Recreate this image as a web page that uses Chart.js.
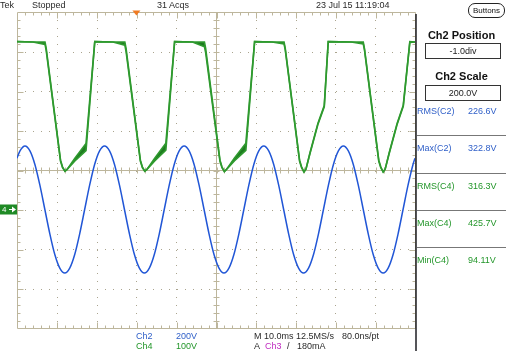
<!DOCTYPE html>
<html>
<head>
<meta charset="utf-8">
<script src="https://cdn.jsdelivr.net/npm/chart.js@4"></script>
<style>
  body { margin: 0; background: #fff; }
  #wrap { position: relative; width: 506px; height: 351px; overflow: hidden;
          font-family: "Liberation Sans", Arial, sans-serif; font-size: 9px; color: #2a2a2a; }
  #wrap canvas { position: absolute; left: 0; top: 0; }
  .t { position: absolute; white-space: nowrap; line-height: 10px; }
  .b { font-weight: bold; font-size: 11px; color: #111; width: 89px; text-align: center; left: 417px; line-height: 12px; }
  .box { position: absolute; border: 1px solid #333; text-align: center; line-height: 14px; height: 14px; color: #222; }
  .sep { position: absolute; left: 417px; width: 89px; height: 1px; background: #777; }
  .c2 { color: #2f5fc8; }
  .c4 { color: #23962a; }
</style>
</head>
<body>
<div id="wrap">
  <canvas id="scope" width="506" height="351"></canvas>

  <div class="t" style="left:0;top:0">Tek</div>
  <div class="t" style="left:32px;top:0">Stopped</div>
  <div class="t" style="left:157px;top:0">31 Acqs</div>
  <div class="t" style="left:316px;top:0">23 Jul 15 11:19:04</div>

  <div class="t" style="left:468px;top:3px;width:35px;height:13px;border:1px solid #222;border-radius:7px;text-align:center;line-height:13px;font-size:8px;color:#111">Buttons</div>
  <div class="t b" style="top:29px">Ch2 Position</div>
  <div class="box" style="left:425px;top:43px;width:74px">-1.0div</div>
  <div class="t b" style="top:70px">Ch2 Scale</div>
  <div class="box" style="left:425px;top:85px;width:74px">200.0V</div>
  <div id="readouts"></div>

  <div class="t" style="left:2px;top:205px;color:#fff;font-size:8px">4</div>

  <div class="t c2" style="left:136px;top:331px">Ch2</div>
  <div class="t c2" style="left:176px;top:331px">200V</div>
  <div class="t c4" style="left:136px;top:341px">Ch4</div>
  <div class="t c4" style="left:176px;top:341px">100V</div>
  <div class="t" style="left:254px;top:331px">M 10.0ms 12.5MS/s</div>
  <div class="t" style="left:342px;top:331px">80.0ns/pt</div>
  <div class="t" style="left:254px;top:341px">A</div>
  <div class="t" style="left:265px;top:341px;color:#c02cc0">Ch3</div>
  <div class="t" style="left:287px;top:341px">/</div>
  <div class="t" style="left:297px;top:341px">180mA</div>
</div>
<script>
// graticule: 10 x 10 ms horizontally, 8 divisions vertically
const timeDivisions = [0, 10, 20, 30, 40, 50, 60, 70, 80, 90, 100];
const ch2Divisions = [-600, -400, -200, 0, 200, 400, 600, 800, 1000];
const ch4Divisions = [-300, -200, -100, 0, 100, 200, 300, 400, 500];
const triggerTime = 30;

// Ch2 (blue) mains voltage, one sample at 0 ms, then every 1.25 ms from 0.75 ms, last at 100 ms
const blueSampleStart = 0.75;
const blueSampleStep = 1.25;
const blueVolts = [
  260,
  297, 322, 297, 228, 123, 0, -123, -228, -297, -322, -297, -228, -123, 0, 123, 228,
  297, 322, 297, 228, 123, 0, -123, -228, -297, -322, -297, -228, -123, 0, 123, 228,
  297, 322, 297, 228, 123, 0, -123, -228, -297, -322, -297, -228, -123, 0, 123, 228,
  297, 322, 297, 228, 123, 0, -123, -228, -297, -322, -297, -228, -123, 0, 123, 228,
  297, 322, 297, 228, 123, 0, -123, -228, -297, -322, -297, -228, -123, 0, 123, 228,
  260
];

// Ch4 (green) bus voltage; 31 acquisitions overlaid, so upper and lower envelope
const greenTimes = [
  0, 4.0, 7.04, 7.34, 10.94, 11.44, 12.04, 12.54, 14.54, 17.34, 19.54,
  24.1, 27.1, 27.4, 31.0, 31.5, 32.1, 32.6, 34.6, 37.4, 39.6,
  44.1, 47.1, 47.4, 51.0, 51.5, 52.1, 52.6, 54.6, 57.5, 59.7,
  64.1, 67.1, 67.4, 71.0, 71.5, 72.1, 72.6, 73.6, 75.6, 77.2, 78.2,
  84.0, 87.0, 87.3, 90.9, 91.4, 92.0, 92.5, 93.5, 95.5, 97.05, 98.7, 100
];
const greenHigh = [
  425, 424, 424, 408, 125, 108, 97, 101, 130, 167, 425,
  424, 424, 408, 125, 108, 97, 101, 130, 168, 425,
  424, 424, 408, 125, 108, 96, 101, 130, 168, 425,
  424, 424, 408, 125, 108, 95, 102, 143, 218, 263, 425,
  424, 424, 408, 125, 108, 95, 102, 143, 218, 264, 425, 424
];
const greenLow = [
  425, 424, 418, 402, 122, 106, 97, 101, 123, 149, 425,
  424, 416, 400, 122, 106, 97, 101, 123, 150, 425,
  424, 412, 397, 122, 106, 96, 101, 123, 150, 425,
  424, 419, 404, 122, 106, 95, 102, 141, 215, 260, 425,
  424, 419, 404, 122, 106, 95, 102, 141, 215, 261, 423, 424
];

const readoutLabels = ["RMS(C2)", "Max(C2)", "RMS(C4)", "Max(C4)", "Min(C4)"];
const readoutValues = ["226.6V", "322.8V", "316.3V", "425.7V", "94.11V"];
const readoutChannels = [2, 2, 4, 4, 4];

// measurement panel
var html = "";
readoutLabels.forEach(function (label, i) {
  var top = 106 + i * 37.3;
  var cls = readoutChannels[i] === 2 ? "c2" : "c4";
  html += '<div class="t ' + cls + '" style="left:417px;top:' + top + 'px">' + label + "</div>";
  html += '<div class="t ' + cls + '" style="left:468px;top:' + top + 'px">' + readoutValues[i] + "</div>";
  if (i > 0) html += '<div class="sep" style="top:' + (top - 8) + 'px"></div>';
});
document.getElementById("readouts").innerHTML = html;

const blueData = blueVolts.map(function (v, i) {
  var t = i === 0 ? 0 : i === blueVolts.length - 1 ? 100 : blueSampleStart + (i - 1) * blueSampleStep;
  return { x: t, y: v };
});
const greenHighData = greenTimes.map((t, i) => ({ x: t, y: greenHigh[i] }));
const greenLowData = greenTimes.map((t, i) => ({ x: t, y: greenLow[i] }));

const GRID = "#bdb69c";
const DOT = "#aaa48e";

const graticule = {
  id: "graticule",
  beforeDatasetsDraw(chart) {
    const { ctx, scales } = chart;
    const xs = timeDivisions.map((v) => Math.round(scales.x.getPixelForValue(v)) + 0.5);
    const ys = ch2Divisions.map((v) => Math.round(scales.y2.getPixelForValue(v)) + 0.5);
    const dx = (xs[xs.length - 1] - xs[0]) / 50;
    const dy = (ys[0] - ys[ys.length - 1]) / 40;
    const cx = xs[5], cy = ys[4];
    const L = xs[0], R = xs[xs.length - 1], T = ys[ys.length - 1], B = ys[0];
    ctx.save();

    // dotted division lines
    ctx.fillStyle = DOT;
    xs.forEach(function (x, i) {
      if (i === 0 || i === 5 || i === xs.length - 1) return;
      for (let k = 1; k < 40; k++) ctx.fillRect(x - 0.5, Math.round(T + k * dy), 1, 1);
    });
    ys.forEach(function (y, i) {
      if (i === 0 || i === 4 || i === ys.length - 1) return;
      for (let k = 1; k < 50; k++) ctx.fillRect(Math.round(L + k * dx), y - 0.5, 1, 1);
    });

    ctx.strokeStyle = GRID;
    ctx.lineWidth = 1;
    ctx.beginPath();
    ctx.rect(L, T, R - L, B - T);
    ctx.moveTo(L, cy); ctx.lineTo(R, cy);
    ctx.moveTo(cx, T); ctx.lineTo(cx, B);
    for (let k = 1; k < 50; k++) {
      const x = Math.round(L + k * dx) + 0.5;
      const len = k % 5 === 0 ? 6 : 3;
      ctx.moveTo(x, T); ctx.lineTo(x, T + len);
      ctx.moveTo(x, B); ctx.lineTo(x, B - len);
      ctx.moveTo(x, cy - 3); ctx.lineTo(x, cy + 3);
    }
    for (let k = 1; k < 40; k++) {
      const y = Math.round(T + k * dy) + 0.5;
      const len = k % 5 === 0 ? 6 : 3;
      ctx.moveTo(L, y); ctx.lineTo(L + len, y);
      ctx.moveTo(R, y); ctx.lineTo(R - len, y);
      ctx.moveTo(cx - 3, y); ctx.lineTo(cx + 3, y);
    }
    ctx.stroke();

    // trigger position marker
    const tx = scales.x.getPixelForValue(triggerTime);
    ctx.fillStyle = "#f07a22";
    ctx.beginPath();
    ctx.moveTo(tx - 4, T - 2); ctx.lineTo(tx + 4, T - 2); ctx.lineTo(tx, T + 3);
    ctx.closePath(); ctx.fill();

    // ch4 ground marker
    const gy = scales.y4.getPixelForValue(0);
    ctx.fillStyle = "#1f8a25";
    ctx.fillRect(0, gy - 5, L - 0.5, 10);
    ctx.fillStyle = "#fff";
    ctx.beginPath();
    ctx.moveTo(9, gy - 0.5); ctx.lineTo(15, gy - 0.5); ctx.lineTo(15, gy + 0.5); ctx.lineTo(9, gy + 0.5);
    ctx.moveTo(12, gy - 3); ctx.lineTo(16, gy); ctx.lineTo(12, gy + 3);
    ctx.fill();
    ctx.restore();
  },
  afterDraw(chart) {
    const ctx = chart.ctx;
    const R = chart.chartArea.right;
    ctx.save();
    ctx.strokeStyle = "#1c1c22";
    ctx.lineWidth = 1.5;
    ctx.beginPath();
    ctx.moveTo(R + 1, 14);
    ctx.lineTo(R + 1, 351);
    ctx.stroke();
    ctx.restore();
  },
};

new Chart(document.getElementById("scope"), {
  type: "line",
  data: {
    datasets: [
      {
        label: "Ch4 min",
        data: greenLowData,
        yAxisID: "y4",
        borderColor: "#2f9a2f",
        borderWidth: 1.6,
        pointRadius: 0,
        tension: 0,
        fill: false,
      },
      {
        label: "Ch4",
        data: greenHighData,
        yAxisID: "y4",
        borderColor: "#2f9a2f",
        backgroundColor: "#1d7a1f",
        borderWidth: 1.6,
        pointRadius: 0,
        tension: 0,
        fill: "-1",
      },
      {
        label: "Ch2",
        data: blueData,
        yAxisID: "y2",
        borderColor: "#2156d6",
        borderWidth: 1.5,
        pointRadius: 0,
        cubicInterpolationMode: "monotone",
        fill: false,
      },
    ],
  },
  options: {
    responsive: false,
    animation: false,
    events: [],
    layout: { padding: { left: 17, top: 12, right: 91, bottom: 23 } },
    plugins: { legend: { display: false }, tooltip: { enabled: false } },
    scales: {
      x: { type: "linear", min: 0, max: 100, display: false },
      y2: { type: "linear", min: -600, max: 1000, display: false },
      y4: { type: "linear", min: -300, max: 500, display: false },
    },
  },
  plugins: [graticule],
});
</script>
</body>
</html>
